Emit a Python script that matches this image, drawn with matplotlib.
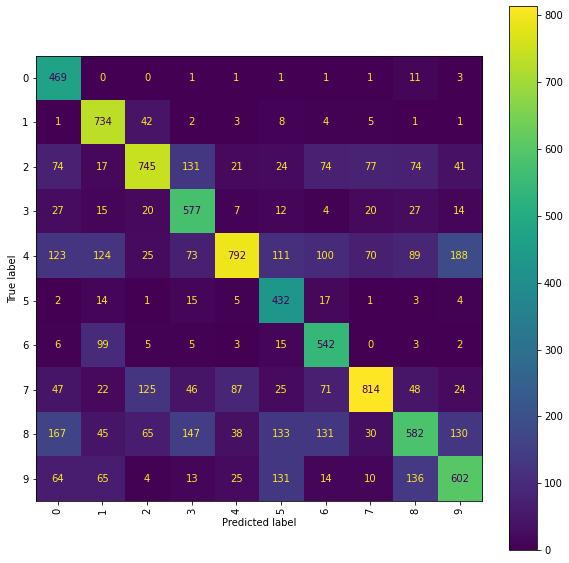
import numpy as np
import matplotlib
matplotlib.use("Agg")
import matplotlib.pyplot as plt

# confusion matrix (rows = true, cols = predicted)
labels = ["0", "1", "2", "3", "4", "5", "6", "7", "8", "9"]
row0 = [469, 0, 0, 1, 1, 1, 1, 1, 11, 3]
row1 = [1, 734, 42, 2, 3, 8, 4, 5, 1, 1]
row2 = [74, 17, 745, 131, 21, 24, 74, 77, 74, 41]
row3 = [27, 15, 20, 577, 7, 12, 4, 20, 27, 14]
row4 = [123, 124, 25, 73, 792, 111, 100, 70, 89, 188]
row5 = [2, 14, 1, 15, 5, 432, 17, 1, 3, 4]
row6 = [6, 99, 5, 5, 3, 15, 542, 0, 3, 2]
row7 = [47, 22, 125, 46, 87, 25, 71, 814, 48, 24]
row8 = [167, 45, 65, 147, 38, 133, 131, 30, 582, 130]
row9 = [64, 65, 4, 13, 25, 131, 14, 10, 136, 602]

cm = np.array([row0, row1, row2, row3, row4, row5, row6, row7, row8, row9])
n = len(labels)

fig = plt.figure(figsize=(569 / 72, 563 / 72), dpi=72)
ax = fig.add_axes([0.0624, 0.1101, 0.7847, 0.7913])
cax = fig.add_axes([0.8946, 0.0231, 0.0492, 0.966])

cmap = plt.get_cmap("viridis")
im = ax.imshow(cm, cmap=cmap, interpolation="nearest", aspect="auto")

# text colour like sklearn: dark text on bright cells
thresh = (cm.max() + cm.min()) / 2.0
cmap_min, cmap_max = cmap(0.0), cmap(1.0)
for i in range(n):
    for j in range(n):
        color = cmap_min if cm[i, j] >= thresh else cmap_max
        ax.text(j, i, str(cm[i, j]), ha="center", va="center", color=color, fontsize=10)

fig.colorbar(im, cax=cax)

ax.set_xticks(np.arange(n))
ax.set_xticklabels(labels, rotation=90)
ax.set_yticks(np.arange(n))
ax.set_yticklabels(labels)
ax.set_xlabel("Predicted label")
ax.set_ylabel("True label")

fig.savefig("out.png", dpi=72)
